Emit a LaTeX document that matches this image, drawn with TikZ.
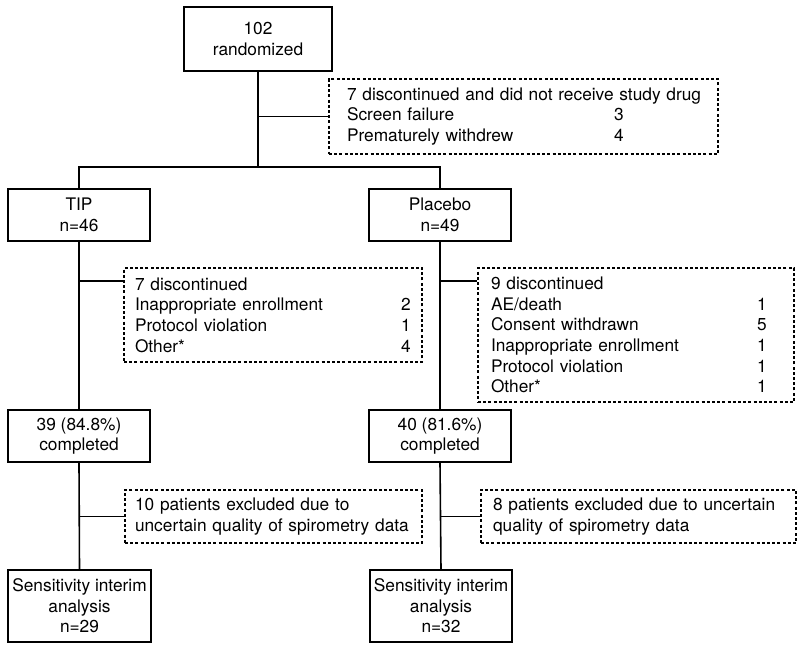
\documentclass[tikz,border=0pt]{standalone}
\usepackage{fontspec}
\setmainfont{TeX Gyre Heros}
\newcommand\myfs{\fontsize{17.3}{20.6}\selectfont}
\begin{document}
\begin{tikzpicture}[x=1pt,y=-1pt,
  sbox/.style={draw, line width=1.5pt, align=center, inner sep=0pt, font=\myfs},
  dbox/.style={draw, line width=1.3pt, dash pattern=on 3pt off 2.2pt, align=left, inner ysep=0pt, font=\myfs},
  conn/.style={line width=1.6pt}]
\useasboundingbox (0,0) rectangle (800,651);

% solid boxes
\node[sbox, minimum width=148pt, minimum height=64pt] (top) at (258,39) {102\\randomized};
\node[sbox, minimum width=142pt, minimum height=52pt] (tip) at (79,215) {TIP\\n=46};
\node[sbox, minimum width=142pt, minimum height=52pt] (plac) at (440,215) {Placebo\\n=49};
\node[sbox, minimum width=142pt, minimum height=52pt] (tipc) at (79,436) {39 (84.8\%)\\completed};
\node[sbox, minimum width=142pt, minimum height=52pt] (placc) at (440,436) {40 (81.6\%)\\completed};
\node[sbox, minimum width=143pt, minimum height=72pt] (tips) at (79.5,606) {Sensitivity interim\\analysis\\n=29};
\node[sbox, minimum width=142pt, minimum height=72pt] (placs) at (441,606) {Sensitivity interim\\analysis\\n=32};

% dashed boxes
\node[dbox, minimum width=389pt, minimum height=75pt, inner xsep=18pt, text width=353pt] (d1) at (523.5,116.5)
  {\mbox{7 discontinued and did not receive study drug}\\
   \makebox[267pt][l]{Screen failure}3\\
   \makebox[267pt][l]{Prematurely withdrew}4};
\node[dbox, minimum width=298pt, minimum height=94pt, inner xsep=11pt, text width=276pt] (tipd) at (273,315)
  {\mbox{7 discontinued}\\
   \makebox[266pt][l]{Inappropriate enrollment}2\\
   \makebox[266pt][l]{Protocol violation}1\\
   \makebox[266pt][l]{Other*}4};
\node[dbox, minimum width=316pt, minimum height=134pt, inner xsep=13pt, text width=290pt] (placd) at (636,335)
  {\mbox{9 discontinued}\\
   \makebox[266pt][l]{AE/death}1\\
   \makebox[266pt][l]{Consent withdrawn}5\\
   \makebox[266pt][l]{Inappropriate enrollment}1\\
   \makebox[266pt][l]{Protocol violation}1\\
   \makebox[266pt][l]{Other*}1};
\node[dbox, minimum width=297pt, minimum height=53pt, inner xsep=10pt, text width=277pt] (tipe) at (273.5,516.5)
  {\mbox{10 patients excluded due to}\\\mbox{uncertain quality of spirometry data}};
\node[dbox, minimum width=315pt, minimum height=53pt, inner xsep=12pt, text width=291pt] (place) at (638.5,516.5)
  {\mbox{8 patients excluded due to uncertain}\\\mbox{quality of spirometry data}};

% connectors
\coordinate (bus) at (258,167);
\draw[conn] (top.south) -- (bus);
\draw[conn] (tip.north) |- (bus) -| (plac.north);
\draw[conn] (top.south |- d1.west) -- (d1.west);
\draw[conn] (tip.south) -- (tipc.north);
\draw[conn] (plac.south) -- (placc.north);
\draw[conn] (tipc.south) -- (tips.north);
\draw[conn] (placc.south) -- (placs.north);
\draw[conn] (tip.south |- 0,281) -- (tipd.west |- 0,281);
\draw[conn] (plac.south |- 0,281) -- (placd.west |- 0,281);
\draw[conn] (tipc.south |- tipe.west) -- (tipe.west);
\draw[conn] (placc.south |- place.west) -- (place.west);
\end{tikzpicture}
\end{document}
